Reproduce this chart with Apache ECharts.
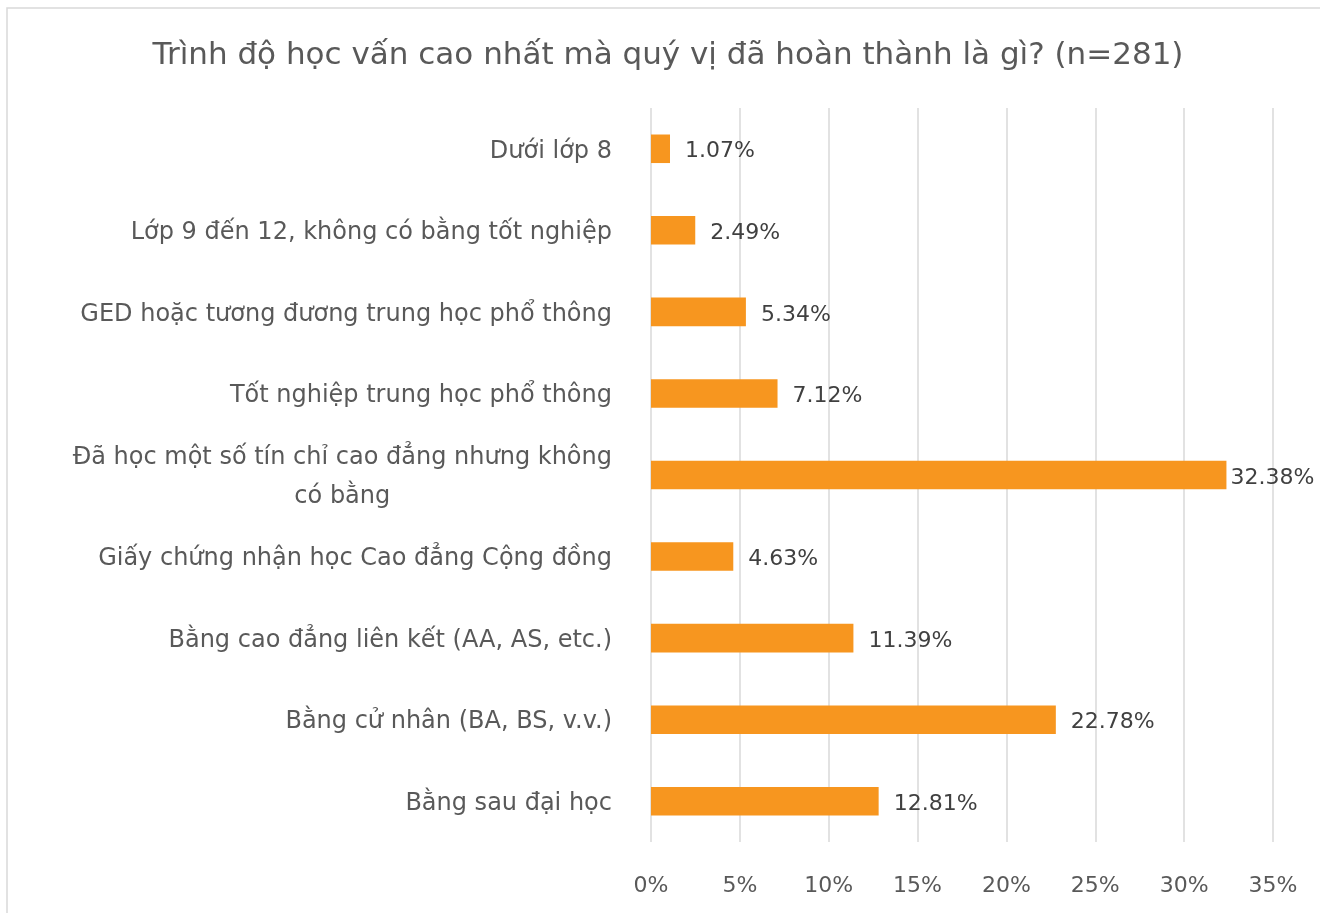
<!DOCTYPE html>
<html>
<head>
<meta charset="utf-8">
<script src="https://cdn.jsdelivr.net/npm/echarts@6/dist/echarts.min.js"></script>
<style>
  html, body { margin: 0; padding: 0; background: #fff; }
  #main { width: 1320px; height: 913px; }
</style>
</head>
<body>
<div id="main"></div>
<script>
// data
const categories = [
  'Dưới lớp 8',
  'Lớp 9 đến 12, không có bằng tốt nghiệp',
  'GED hoặc tương đương trung học phổ thông',
  'Tốt nghiệp trung học phổ thông',
  'Đã học một số tín chỉ cao đẳng nhưng không\ncó bằng',
  'Giấy chứng nhận học Cao đẳng Cộng đồng',
  'Bằng cao đẳng liên kết (AA, AS, etc.)',
  'Bằng cử nhân (BA, BS, v.v.)',
  'Bằng sau đại học'
]
const percents = [1.07, 2.49, 5.34, 7.12, 32.38, 4.63, 11.39, 22.78, 12.81]
const xTicks = [0, 5, 10, 15, 20, 25, 30, 35]

const font = "'DejaVu Sans', 'Noto Sans', sans-serif"

// long bars get their label pulled in, as in the original
const barData = percents.map(function (v) {
  return v > 30 ? { value: v, label: { distance: 4 } } : v
})

const myChart = echarts.init(document.getElementById('main'))
const option = {
  backgroundColor: '#fff',
  textStyle: { fontFamily: font },
  title: {
    text: 'Trình độ học vấn cao nhất mà quý vị đã hoàn thành là gì? (n=281)',
    left: 663,
    top: 35,
    textAlign: 'center',
    textStyle: { fontFamily: font, fontSize: 31, fontWeight: 'normal', color: '#595959' }
  },
  graphic: [{
    type: 'rect',
    shape: { x: 7, y: 8, width: 1400, height: 1000 },
    style: { fill: 'none', stroke: '#d9d9d9', lineWidth: 1.5 },
    silent: true
  }],
  grid: {
    left: 651,
    right: 47,
    top: 108,
    bottom: 71,
    outerBoundsMode: 'none'
  },
  xAxis: {
    type: 'value',
    min: xTicks[0],
    max: xTicks[xTicks.length - 1],
    interval: 5,
    axisLine: { show: false },
    axisTick: { show: false },
    splitLine: { show: true, lineStyle: { color: '#d9d9d9', width: 1.5 } },
    axisLabel: {
      margin: 33,
      fontFamily: font,
      fontSize: 22,
      color: '#595959',
      formatter: '{value}%'
    }
  },
  yAxis: {
    type: 'category',
    inverse: true,
    data: categories,
    axisLine: { show: false },
    axisTick: { show: false },
    axisLabel: {
      margin: 39,
      fontFamily: font,
      fontSize: 24,
      color: '#595959',
      lineHeight: 39,
      padding: [5, 0, 0, 0],
      formatter: function (v) {
        if (v.indexOf('\n') < 0) return v
        return v.split('\n').map(function (s) { return '{c|' + s + '}' }).join('\n')
      },
      rich: {
        c: { align: 'center', fontFamily: font, fontSize: 24, color: '#595959', lineHeight: 39 }
      }
    }
  },
  series: [{
    type: 'bar',
    data: barData,
    barCategoryGap: '65%',
    itemStyle: { color: '#f7961f' },
    label: {
      show: true,
      position: 'right',
      distance: 15,
      offset: [0, 3],
      fontFamily: font,
      fontSize: 22,
      color: '#404040',
      formatter: function (p) { return p.value.toFixed(2) + '%' }
    }
  }]
}
myChart.setOption(option)
</script>
</body>
</html>
